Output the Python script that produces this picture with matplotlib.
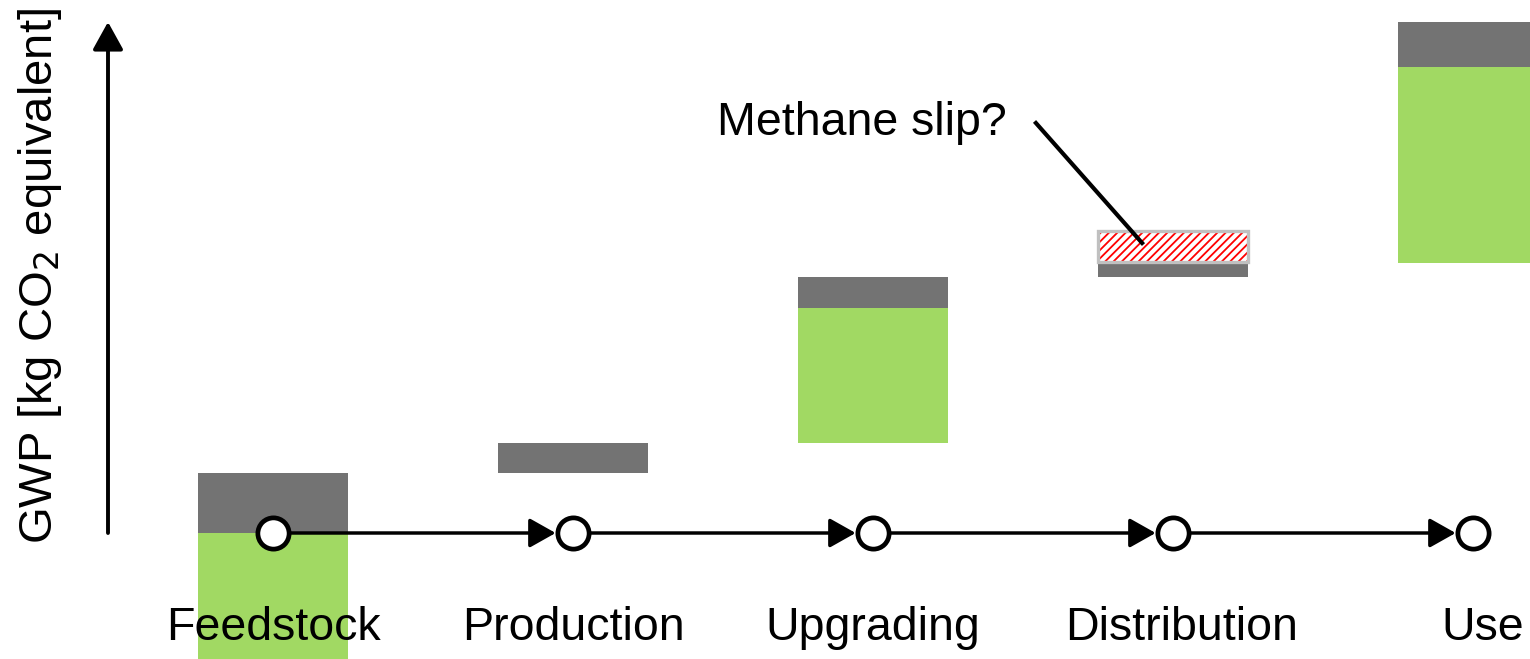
import numpy as np
import matplotlib
matplotlib.use('Agg')
import matplotlib.pyplot as plt

plt.rcParams['font.family'] = ['Liberation Sans', 'DejaVu Sans']
plt.rcParams['hatch.linewidth'] = 1.3

# process stages and floating bar data (arbitrary GWP units, baseline = 0)
stages = ['Feedstock', 'Production', 'Upgrading', 'Distribution', 'Use']
label_shift = [0.0, 0.0, 0.0, 0.027, 0.033]

gray_bottom = [0.0, 6.0, 22.5, 25.6, 46.6]
gray_height = [6.0, 3.0, 3.1, 1.5, 4.5]

green_bottom = [-14.0, 0.0, 9.0, 0.0, 27.0]
green_height = [14.0, 0.0, 13.5, 0.0, 19.6]

slip_stage = 3
slip_bottom = 27.1
slip_height = 3.1

GRAY = '#737373'
GREEN = '#a1d963'

x = np.arange(len(stages))
width = 0.5

fig = plt.figure(figsize=(15.3, 6.59), dpi=100)
ax = fig.add_axes([0, 0, 1, 1])
ax.set_xlim(-0.91, 4.19)
ax.set_ylim(-12.6, 53.3)
ax.axis('off')

ax.bar(x, green_height, width, bottom=green_bottom, color=GREEN, zorder=1)
ax.bar(x, gray_height, width, bottom=gray_bottom, color=GRAY, zorder=1)

# methane slip (hatched, gray outline)
ax.bar(x[slip_stage], slip_height, width, bottom=slip_bottom,
       facecolor='white', edgecolor='red', hatch='////', linewidth=0, zorder=2)
ax.bar(x[slip_stage], slip_height, width, bottom=slip_bottom,
       facecolor='none', edgecolor='#c0c0c0', linewidth=2.4, zorder=2)

# process flow line with arrows into each stage node
for i in range(len(stages) - 1):
    ax.annotate('', xy=(x[i + 1], 0), xytext=(x[i], 0),
                arrowprops=dict(arrowstyle='-|>,head_length=0.8,head_width=0.45',
                                mutation_scale=20, color='black', lw=2.5,
                                shrinkA=0, shrinkB=12.5),
                zorder=3)
ax.plot(x, np.zeros(len(x)), linestyle='none', marker='o', markersize=22.5,
        markerfacecolor='white', markeredgecolor='black', markeredgewidth=3.4,
        zorder=4)

# vertical GWP axis arrow
ax.annotate('', xy=(-0.55, 51.1), xytext=(-0.55, 0),
            arrowprops=dict(arrowstyle='-|>,head_length=0.85,head_width=0.47',
                            mutation_scale=20, color='black', lw=2.8,
                            shrinkA=0, shrinkB=0))

ax.text(-0.775, 25.7, 'GWP [kg CO$_2$ equivalent]', rotation=90,
        ha='center', va='center', fontsize=34)

for xi, name, dx in zip(x, stages, label_shift):
    ax.text(xi + dx, -10.7, name, ha='center', va='baseline', fontsize=33.5,
            zorder=5)

# methane slip callout
ax.text(1.48, 39.8, 'Methane slip?', ha='left', va='baseline', fontsize=33.5)
ax.plot([2.543, 2.897], [41.0, 29.0], color='black', lw=3, zorder=3)

fig.savefig('out.png', dpi=100)
